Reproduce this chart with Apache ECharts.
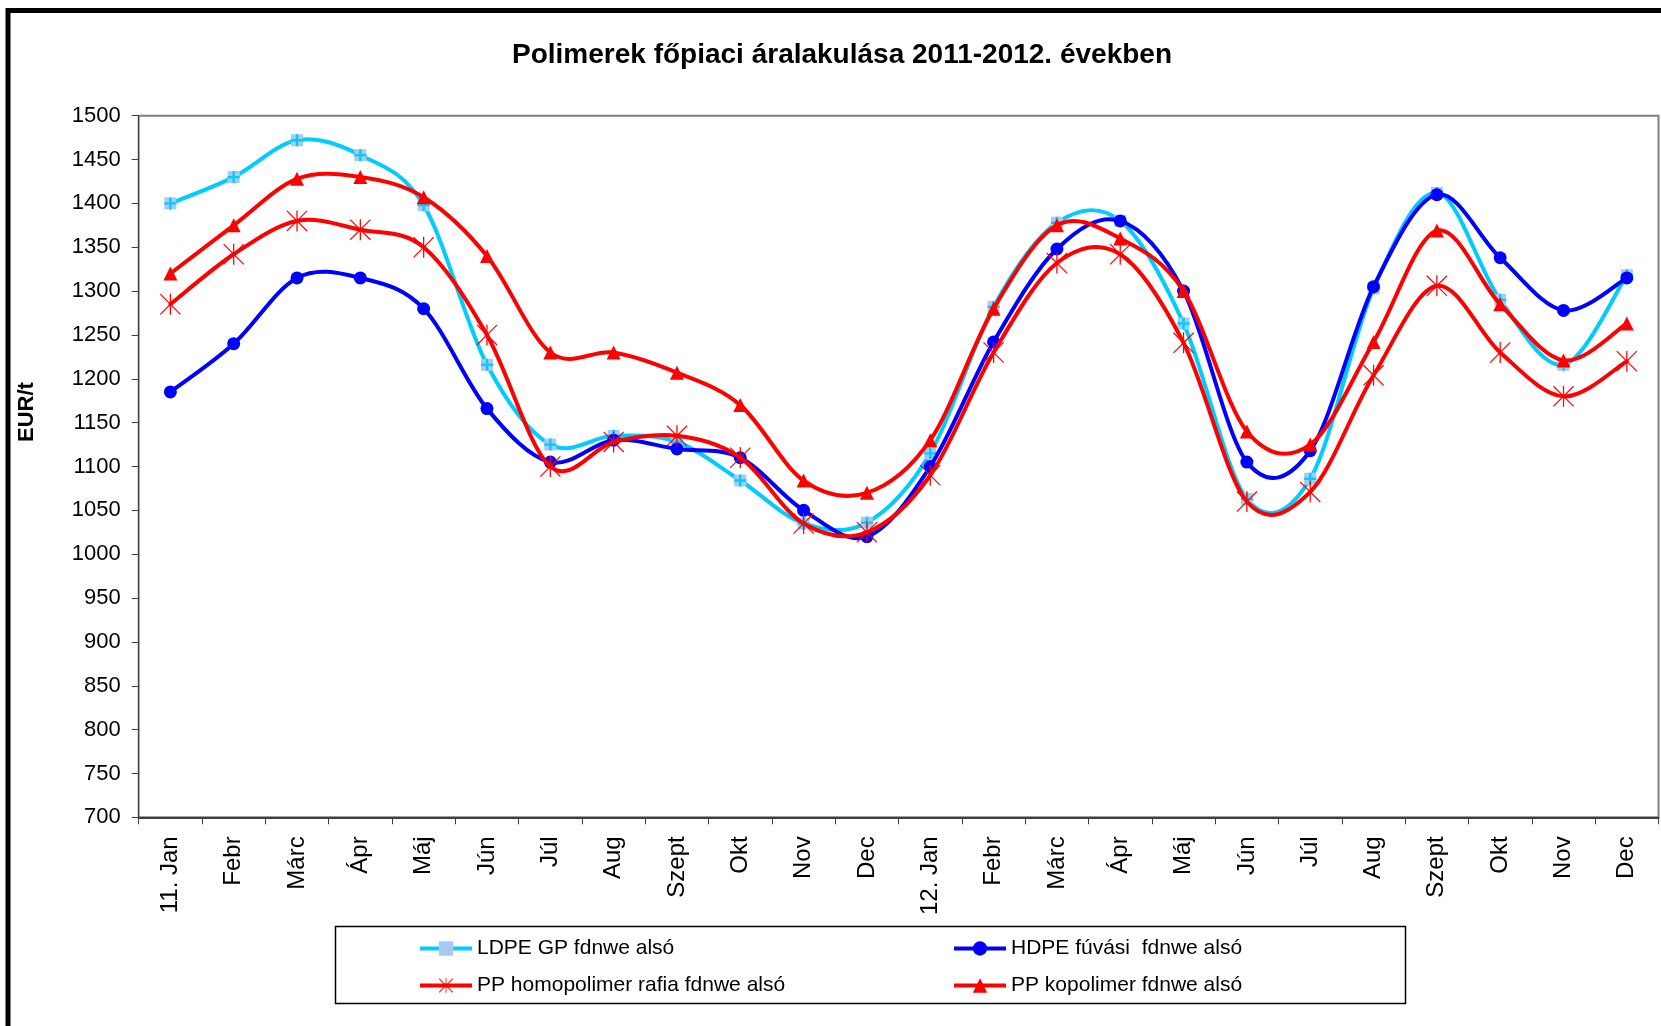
<!DOCTYPE html>
<html>
<head>
<meta charset="utf-8">
<script src="https://cdn.jsdelivr.net/npm/echarts@6/dist/echarts.min.js"></script>
<style>
html,body{margin:0;padding:0;background:#fff;}
#chart{width:1661px;height:1026px;}
</style>
</head>
<body>
<div id="chart"></div>
<script>
const categories = ['11. Jan','Febr','Márc','Ápr','Máj','Jún','Júl','Aug','Szept','Okt','Nov','Dec','12. Jan','Febr','Márc','Ápr','Máj','Jún','Júl','Aug','Szept','Okt','Nov','Dec'];
const seriesNames = ['LDPE GP fdnwe alsó','HDPE fúvási  fdnwe alsó','PP homopolimer rafia fdnwe alsó','PP kopolimer fdnwe alsó'];
const ldpe   = [1400,1430,1472,1455,1398,1216,1125,1135,1128,1084,1035,1036,1115,1282,1378,1380,1263,1063,1086,1303,1412,1290,1216,1318];
const hdpe   = [1185,1240,1315,1315,1280,1166,1105,1130,1120,1110,1050,1020,1100,1242,1348,1380,1300,1105,1118,1305,1410,1338,1278,1315];
const ppHomo = [1285,1342,1380,1370,1350,1250,1100,1128,1135,1110,1035,1025,1090,1230,1332,1342,1241,1060,1071,1204,1306,1230,1180,1220];
const ppKopo = [1320,1375,1428,1430,1407,1340,1230,1230,1207,1170,1084,1070,1130,1280,1375,1360,1300,1140,1125,1242,1369,1285,1221,1263];
const yMin = 700, yMax = 1500, yStep = 50;
const titleText = 'Polimerek főpiaci áralakulása 2011-2012. években';
const yAxisTitle = 'EUR/t';

const FONT = '"Liberation Sans", Arial, sans-serif';
const asteriskPath = 'path://M47 0 L53 0 L53 100 L47 100 Z M4 0 L100 96 L96 100 L0 4 Z M96 0 L100 4 L4 100 L0 96 Z';
const plusPath = 'path://M40 0 L60 0 L60 40 L100 40 L100 60 L60 60 L60 100 L40 100 L40 60 L0 60 L0 40 L40 40 Z';

// Excel-style smoothed line: cubic Bezier segments through the data points,
// positioned with the chart's own coordinate system (api.coord).
function curveSeries(values, color, z) {
  const n = values.length;
  return {
    type: 'custom', data: values.map((v, i) => [i, v]), encode: {x: 0, y: 1}, z: z, silent: true, clip: false,
    renderItem: function (params, api) {
      const i = params.dataIndex;
      if (i >= n - 1) return null;
      const P = k => { const j = Math.max(0, Math.min(n - 1, k)); return api.coord([j, values[j]]); };
      const p0 = P(i - 1), p1 = P(i), p2 = P(i + 1), p3 = P(i + 2);
      return {
        type: 'bezierCurve',
        shape: {
          x1: p1[0], y1: p1[1], x2: p2[0], y2: p2[1],
          cpx1: p1[0] + (p2[0] - p0[0]) / 6, cpy1: p1[1] + (p2[1] - p0[1]) / 6,
          cpx2: p2[0] - (p3[0] - p1[0]) / 6, cpy2: p2[1] - (p3[1] - p1[1]) / 6
        },
        style: {stroke: color, lineWidth: 4, fill: 'none', lineCap: 'round'}
      };
    }
  };
}
function markerSeries(name, values, color, symbol, size, fill, z) {
  return {name: name, type: 'line', data: values, symbol: symbol, symbolSize: size,
    lineStyle: {color: color, width: 4, opacity: 0}, itemStyle: {color: fill}, z: z};
}

const chart = echarts.init(document.getElementById('chart'), null, {renderer:'canvas'});
const legendText = {fontFamily: FONT, fontSize: 21, color: '#000'};
const legendCommon = {orient: 'vertical', top: 938, itemWidth: 52, itemHeight: 18, itemGap: 16, textStyle: legendText, padding: 0,
  lineStyle: {width: 4, opacity: 1}};
chart.setOption({
  animation: false,
  backgroundColor: '#fff',
  title: {
    text: titleText, left: 837, top: 36, textAlign: 'center',
    textStyle: {fontFamily: FONT, fontSize: 28, fontWeight: 'bold', color: '#000'}
  },
  grid: {left: 138.7, top: 115.7, right: 2.5, bottom: 208.7, show: true, borderColor: '#808080', borderWidth: 2, backgroundColor: '#fff'},
  legend: [
    Object.assign({data: [seriesNames[0], seriesNames[2]], left: 418}, legendCommon),
    Object.assign({data: [seriesNames[1], seriesNames[3]], left: 952}, legendCommon)
  ],
  xAxis: {
    type: 'category', data: categories, boundaryGap: true,
    axisLine: {lineStyle: {color: '#404040', width: 2}},
    axisTick: {show: true, length: 7, inside: false, lineStyle: {color: '#404040', width: 1}},
    axisLabel: {rotate: 90, margin: 19, interval: 0, fontFamily: FONT, fontSize: 24, color: '#000'},
    splitLine: {show: false}
  },
  yAxis: {
    type: 'value', min: yMin, max: yMax, interval: yStep,
    axisLine: {show: true, lineStyle: {color: '#404040', width: 1}},
    axisTick: {show: true, length: 7, inside: false, lineStyle: {color: '#404040', width: 1}},
    axisLabel: {margin: 18, fontFamily: FONT, fontSize: 22, color: '#000', formatter: v => String(v)},
    splitLine: {show: false}
  },
  graphic: [
    {type: 'rect', shape: {x: 8, y: 10.5, width: 2000, height: 2000}, style: {fill: 'none', stroke: '#000', lineWidth: 5}, z: 100},
    {type: 'rect', shape: {x: 335.5, y: 926.5, width: 1070, height: 77}, style: {fill: 'none', stroke: '#000', lineWidth: 1.5}, z: 1},
    {type: 'text', x: 27, y: 412, rotation: Math.PI/2, style: {text: yAxisTitle, fontFamily: FONT, fontSize: 22, fontWeight: 'bold', fill: '#000', align: 'center', verticalAlign: 'middle'}}
  ],
  series: [
    curveSeries(ldpe, '#00ccff', 2),
    markerSeries(seriesNames[0], ldpe, '#00ccff', 'rect', 12, '#a6caf0', 2),
    {name: 'ldpe-plus', type: 'line', data: ldpe, symbol: plusPath, symbolSize: 12,
      lineStyle: {width: 0, opacity: 0}, itemStyle: {color: '#00ccff'}, z: 2, silent: true},
    curveSeries(hdpe, '#0000ff', 3),
    markerSeries(seriesNames[1], hdpe, '#0000ff', 'circle', 13, '#0000ff', 3),
    curveSeries(ppHomo, '#ff0000', 4),
    markerSeries(seriesNames[2], ppHomo, '#ff0000', asteriskPath, 21, '#ff0000', 4),
    curveSeries(ppKopo, '#ff0000', 5),
    markerSeries(seriesNames[3], ppKopo, '#ff0000', 'triangle', 14, '#ff0000', 5)
  ]
});
</script>
</body>
</html>
